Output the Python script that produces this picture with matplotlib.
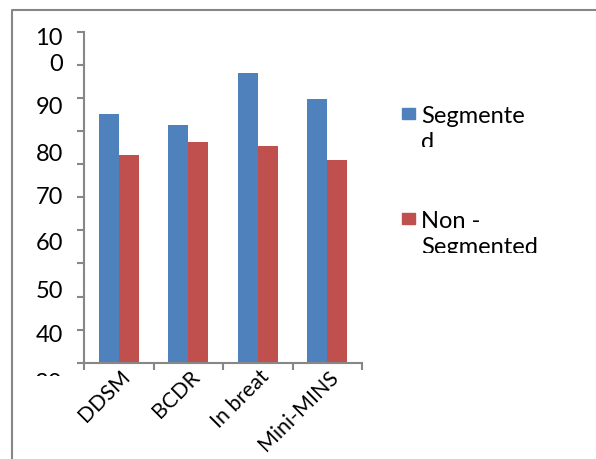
import numpy as np
import matplotlib
matplotlib.use('Agg')
import matplotlib.pyplot as plt
from matplotlib.patches import Rectangle
from matplotlib.lines import Line2D

# Accuracy per dataset, segmented vs non-segmented images
datasets = ['DDSM', 'BCDR', 'In breat', 'Mini-MINS']
segmented = [82.6, 80.3, 91.3, 85.8]
non_segmented = [73.9, 76.7, 75.8, 72.9]

series_names = ['Segmente\nd', 'Non -\nSegmented']
series_colors = ['#4F81BD', '#C0504D']
y_labels = ['10\n0', '90', '80', '70', '60', '50', '40', '30']

W, H = 596, 459
plt.rcParams['font.family'] = ['Lato', 'DejaVu Sans']
FS = 17
GREY = '#878787'


def px(x, y):
    """pixel position (from top-left) -> figure fraction"""
    return x / W, 1 - y / H


fig = plt.figure(figsize=(W / 100, H / 100), dpi=100)
ax = fig.add_axes([84 / W, 1 - 362.7 / H, (362 - 84) / W, (362.7 - 31.7) / H])

x = np.arange(len(datasets))
bw = 0.2874
ax.bar(x - bw / 2, segmented, bw, color=series_colors[0])
ax.bar(x + bw / 2, non_segmented, bw, color=series_colors[1])

ax.set_xlim(-0.5, len(datasets) - 0.5)
ax.set_ylim(30, 100)

# axis lines and tick marks
for s in ['top', 'right']:
    ax.spines[s].set_visible(False)
for s in ['left', 'bottom']:
    ax.spines[s].set_color(GREY)
    ax.spines[s].set_linewidth(1.5)
ax.set_yticks(np.linspace(30, 100, 11))
ax.set_xticks(np.arange(-0.5, len(datasets)))
ax.tick_params(axis='both', which='major', direction='out', length=5,
               width=1.5, color=GREY, labelleft=False, labelbottom=False)

# category labels
ax.set_xticks(x + 0.12, minor=True)
ax.set_xticklabels(datasets, minor=True, rotation=45, ha='right',
                   va='center', rotation_mode='anchor', fontsize=FS * 0.9)
ax.tick_params(axis='x', which='minor', length=0, pad=8)

# value labels on the left
label_y = [51.5, 108, 154, 198, 243, 291, 336, 383]
for lab, ly in zip(y_labels, label_y):
    t = fig.text(*px(63, ly), lab, ha='right', va='center', fontsize=FS,
                 linespacing=1.25)
    if lab == '30':
        clip = Rectangle((0, 1 - 376 / H), 1, 1, transform=fig.transFigure)
        t.set_clip_path(clip)

# legend
leg_top = [108, 213]
leg_clip = [147, 253]
for name, col, top, cut in zip(series_names, series_colors, leg_top, leg_clip):
    sx, sy = px(402, top + 11)
    fig.add_artist(Rectangle((sx, sy), 13 / W, 11 / H, color=col,
                             transform=fig.transFigure))
    t = fig.text(*px(421, top - 2), name, ha='left', va='top', fontsize=FS,
                 linespacing=1.3)
    t.set_clip_path(Rectangle((0, 1 - cut / H), 1, 1,
                              transform=fig.transFigure))

# chart area border (runs off the right and bottom)
fig.add_artist(Line2D([12 / W, 12 / W, 1], [0, 1 - 10 / H, 1 - 10 / H],
                      color=GREY, lw=1.5, transform=fig.transFigure))

fig.savefig('out.png', dpi=100)
